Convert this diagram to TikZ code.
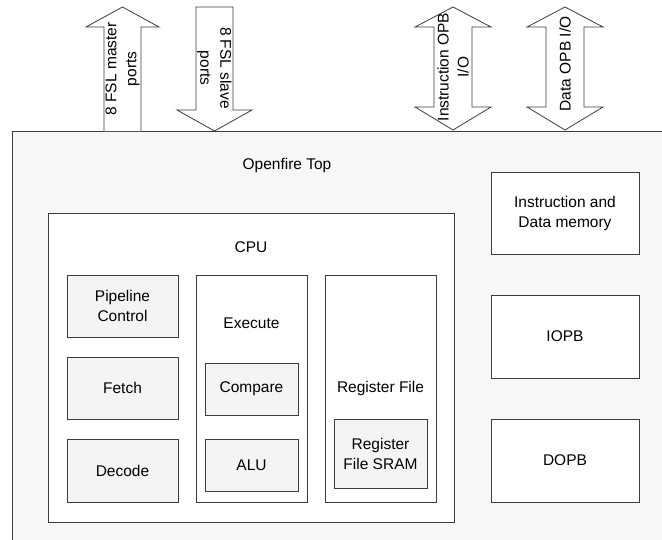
\documentclass[tikz,border=0pt]{standalone}
\usepackage{fontspec}
\setmainfont{Liberation Sans}
\usepackage{tikz}
\usetikzlibrary{positioning}
\definecolor{bggray}{HTML}{F7F7F7}
\definecolor{boxgray}{HTML}{F4F4F4}
\definecolor{linegray}{HTML}{3C3C3C}

\begin{document}
\begin{tikzpicture}[
 x=1pt,y=-1pt,
 font=\fontsize{15.5}{20}\selectfont,
 wbox/.style={draw=linegray,fill=white,line width=0.8pt,inner sep=0pt,align=center},
 gbox/.style={draw=linegray,fill=boxgray,line width=0.8pt,inner sep=0pt,align=center},
 barrow/.style={draw=linegray,fill=white,line width=0.8pt},
 lbl/.style={align=center,inner sep=0pt}
]
\useasboundingbox (0,0) rectangle (662,539);
\fill[white] (0,0) rectangle (662,539);

% openfire top
\draw[fill=bggray,draw=linegray,line width=0.8pt] (12,131) rectangle (700,580);
\node[lbl] (toplbl) at (287,165) {Openfire Top};

% ports
\draw[barrow] (104,131) -- (104,27) -- (86,27) -- (122.5,7) -- (159,27) -- (141,27) -- (141,131);
\node[lbl,rotate=90] (mports) at (122.5,69) {8 FSL master\\ports};
\draw[barrow] (196,7) -- (196,110) -- (177,110) -- (214.5,131) -- (252,110) -- (233,110) -- (233,7) -- cycle;
\node[lbl,rotate=-90] (sports) at (214.5,68) {8 FSL slave\\ports};
\draw[barrow] (434,27) -- (434,107) -- (415,107) -- (453,130) -- (491,107) -- (472,107) -- (472,27) -- (491,27) -- (453,7) -- (415,27) -- cycle;
\node[lbl,rotate=90] (iopbio) at (453,67) {Instruction OPB\\I/O};
\draw[barrow] (546,27) -- (546,107) -- (527,107) -- (565,130) -- (603,107) -- (584,107) -- (584,27) -- (603,27) -- (565,7) -- (527,27) -- cycle;
\node[lbl,rotate=90] (dopbio) at (565,64) {Data OPB I/O};

% cpu
\node[wbox,minimum width=406,minimum height=309] (cpu) at (251,367.5) {};
\node[lbl] (cpulbl) at (251,247) {CPU};
\node[gbox,minimum width=111,minimum height=62] (pipe) at (122.5,306) {Pipeline\\Control};
\node[gbox,minimum width=111,minimum height=62] (fetch) at (122.5,388) {Fetch};
\node[gbox,minimum width=111,minimum height=63] (decode) at (122.5,470.5) {Decode};

\node[wbox,minimum width=111,minimum height=227] (exec) at (251.5,388.5) {};
\node[lbl] (execlbl) at (251.5,323) {Execute};
\node[gbox,minimum width=93,minimum height=52] (cmp) at (251.5,389) {Compare};
\node[gbox,minimum width=93,minimum height=52] (alu) at (251.5,465) {ALU};

\node[wbox,minimum width=111,minimum height=227] (regf) at (380.5,388.5) {};
\node[lbl] (regflbl) at (380.5,388) {Register File};
\node[gbox,minimum width=93,minimum height=69] (sram) at (380.5,453.5) {Register\\File SRAM};

% memory and buses
\node[wbox,minimum width=148,minimum height=82] (mem) at (565,213) {Instruction and\\Data memory};
\node[wbox,minimum width=148,minimum height=83] (iopb) at (565,336.5) {IOPB};
\node[wbox,minimum width=148,minimum height=83] (dopb) at (565,460.5) {DOPB};
\end{tikzpicture}
\end{document}
